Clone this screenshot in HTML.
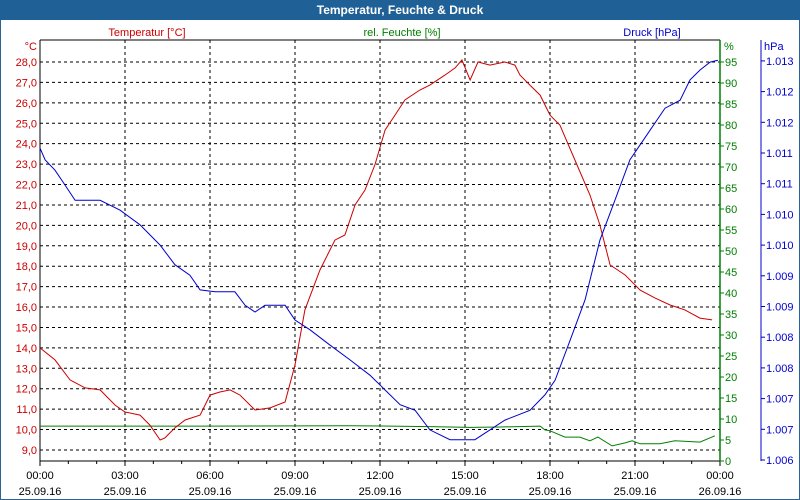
<!DOCTYPE html>
<html><head><meta charset="utf-8"><style>
html,body{margin:0;padding:0;background:#fff}
svg{display:block;font-family:"Liberation Sans","DejaVu Sans",sans-serif}
</style></head><body>
<svg id="chart" width="800" height="500" viewBox="0 0 800 500">
<rect x="0" y="0" width="800" height="500" fill="#fff" stroke="#2a6496" stroke-width="2"/>
<rect x="0" y="0" width="800" height="20" fill="#1f6196"/>
<text x="400" y="14" text-anchor="middle" fill="#fff" font-size="12" font-weight="bold">Temperatur, Feuchte &amp; Druck</text>
<text x="147" y="36" text-anchor="middle" fill="#cc0000" font-size="11">Temperatur [°C]</text>
<text x="402" y="36" text-anchor="middle" fill="#008000" font-size="11">rel. Feuchte [%]</text>
<text x="652" y="36" text-anchor="middle" fill="#0000cc" font-size="11">Druck [hPa]</text>
<text x="37" y="50" text-anchor="end" fill="#cc0000" font-size="11">°C</text>
<text x="724" y="50" fill="#008000" font-size="11">%</text>
<text x="764" y="50" fill="#0000cc" font-size="11">hPa</text>
<g id="grid"></g><g id="axes"></g><g id="series"></g>
</svg>
<script>
const hours=[0,3,6,9,12,15,18,21,24];
const timeLabels=["00:00","03:00","06:00","09:00","12:00","15:00","18:00","21:00","00:00"];
const dateLabels=["25.09.16","25.09.16","25.09.16","25.09.16","25.09.16","25.09.16","25.09.16","25.09.16","26.09.16"];
const tempTicks=[9,10,11,12,13,14,15,16,17,18,19,20,21,22,23,24,25,26,27,28];
const humTicks=[0,5,10,15,20,25,30,35,40,45,50,55,60,65,70,75,80,85,90,95];
const presTicks=[1006.5,1007,1007.5,1008,1008.5,1009,1009.5,1010,1010.5,1011,1011.5,1012,1012.5,1013];
const presLabels=["1.006","1.007","1.007","1.008","1.008","1.009","1.009","1.010","1.010","1.011","1.011","1.012","1.012","1.013"];
const tempTime=[0,0.53,1.06,1.59,2.12,2.65,3.0,3.53,3.88,4.24,4.41,4.76,5.12,5.65,6.0,6.35,6.71,7.06,7.59,8.12,8.65,9.0,9.35,9.88,10.41,10.76,11.12,11.47,11.82,12.18,12.53,12.88,13.41,13.76,14.29,14.65,14.89,15.18,15.46,15.88,16.41,16.76,16.94,17.29,17.65,18.0,18.35,18.88,19.41,19.76,20.12,20.65,21.18,21.71,22.24,22.76,23.29,23.72];
const tempVals=[14.0,13.41,12.43,12.04,11.94,11.2,10.86,10.71,10.22,9.49,9.59,10.08,10.47,10.71,11.69,11.84,11.94,11.69,10.96,11.06,11.35,13.16,15.86,17.81,19.28,19.53,21.0,21.73,22.96,24.67,25.4,26.14,26.63,26.87,27.36,27.71,28.1,27.12,28.0,27.85,28.0,27.85,27.36,26.87,26.38,25.4,24.91,23.2,21.49,20.02,18.06,17.57,16.83,16.44,16.1,15.86,15.46,15.37];
const humTime=[0,5.65,10.94,13.76,15.18,16.24,17.65,17.82,18.0,18.53,19.06,19.41,19.69,20.19,20.65,20.9,21.18,21.88,22.41,23.29,23.82];
const humVals=[8.3,8.3,8.4,8.2,8.0,8.1,8.3,7.4,7.2,5.7,5.7,4.8,5.7,3.6,4.3,4.8,4.1,4.1,4.8,4.5,6.0];
const presTime=[0,0.18,0.53,0.88,1.24,2.12,2.82,3.53,4.24,4.76,5.29,5.65,6.18,6.88,7.24,7.59,7.94,8.65,9.0,9.53,10.24,10.94,11.65,12.18,12.71,13.24,13.76,14.47,15.35,15.88,16.41,17.29,17.82,18.18,18.71,19.24,19.76,20.29,20.82,21.53,22.06,22.59,22.94,23.29,23.65,23.93];
const presVals=[1011.58,1011.39,1011.22,1010.98,1010.73,1010.73,1010.57,1010.33,1010.0,1009.68,1009.51,1009.27,1009.24,1009.24,1009.02,1008.91,1009.02,1009.02,1008.78,1008.62,1008.37,1008.13,1007.88,1007.64,1007.4,1007.31,1006.99,1006.83,1006.83,1006.99,1007.15,1007.31,1007.56,1007.8,1008.45,1009.11,1010.08,1010.73,1011.39,1011.87,1012.23,1012.36,1012.69,1012.85,1012.98,1013.01];

const L=40,R=720,T=40,B=461;
const xS=h=>L+h*(R-L)/24;
const yT=v=>62+(28-v)*20.42;
const yH=v=>461-v*4.2;
const yP=v=>460-(v-1006.5)/0.5*30.7;
const NS="http://www.w3.org/2000/svg";
function mk(tag,attrs,parent,text){const e=document.createElementNS(NS,tag);for(const k in attrs)e.setAttribute(k,attrs[k]);if(text!==undefined)e.textContent=text;document.getElementById(parent).appendChild(e);return e;}
// horizontal grid from temp ticks
tempTicks.forEach(v=>{
 const g=mk("line",{x1:L,x2:R,y1:yT(v),y2:yT(v),stroke:"#000","stroke-dasharray":"3,3","stroke-width":1},"grid");
 
 
 const t=mk("text",{x:37,y:yT(v)+4,"text-anchor":"end",fill:"#cc0000","font-size":11},"axes",v.toFixed(1).replace(".",","));
 
 
});
hours.forEach((h,i)=>{
 if(i>0&&i<hours.length-1){const g=mk("line",{x1:xS(h),x2:xS(h),y1:T,y2:B,stroke:"#000","stroke-dasharray":"3,3"},"grid");
 
 }
 const t=mk("text",{x:xS(h),y:479,"text-anchor":"middle",fill:"#000","font-size":11},"axes",timeLabels[i]);
 
 
 const d=mk("text",{x:xS(h),y:495,"text-anchor":"middle",fill:"#000","font-size":11},"axes",dateLabels[i]);
 
 
});
for(let h=0;h<=24;h++){const tk=mk("line",{x1:xS(h),x2:xS(h),y1:B,y2:B+(h%3===0?5:3),stroke:"#000"},"axes");
 
 }
const box=mk("path",{d:`M${L},${T}V${B}H${R}M${L},${T}H${R}`,stroke:"#000",fill:"none"},"axes");


const ga=mk("line",{x1:R,x2:R,y1:T,y2:B,stroke:"#008000","stroke-width":1.5},"axes");


humTicks.forEach(v=>{
 const tk=mk("line",{x1:R,x2:R+4,y1:yH(v),y2:yH(v),stroke:"#008000"},"axes");
 
 
 const t=mk("text",{x:725,y:yH(v)+4,fill:"#008000","font-size":11},"axes",String(v));
 
 
});
const pa=mk("line",{x1:761,x2:761,y1:T,y2:B,stroke:"#0000cc"},"axes");


presTicks.forEach((v,i)=>{
 const tk=mk("line",{x1:761,x2:765,y1:yP(v),y2:yP(v),stroke:"#0000cc"},"axes");
 
 
 const t=mk("text",{x:766,y:yP(v)+4,fill:"#0000cc","font-size":11},"axes",presLabels[i]);
 
 
});
function line(ts,vs,ys,col){return ts.map((t,i)=>(i?"L":"M")+xS(t).toFixed(1)+","+ys(vs[i]).toFixed(1)).join("");}
const hl=mk("path",{d:line(humTime,humVals,yH),stroke:"#008000",fill:"none","stroke-width":1},"series");


const tl=mk("path",{d:line(tempTime,tempVals,yT),stroke:"#cc0000",fill:"none","stroke-width":1},"series");


const pl=mk("path",{d:line(presTime,presVals,yP),stroke:"#0000cc",fill:"none","stroke-width":1},"series");


</script>
</body></html>
